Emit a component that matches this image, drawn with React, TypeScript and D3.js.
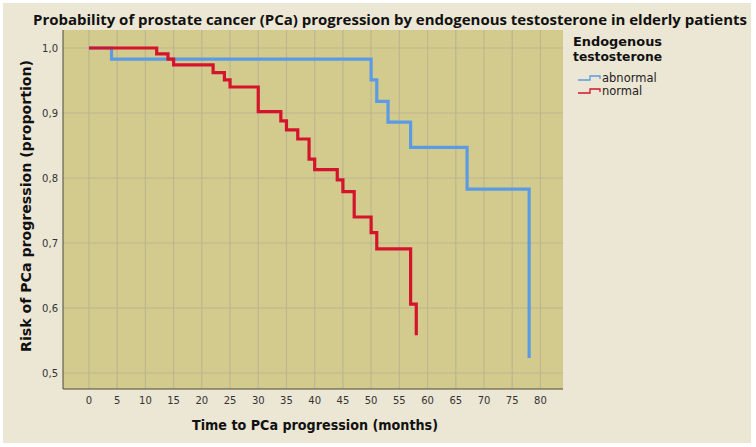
import React from "react";
import * as d3 from "d3";

const xTicks = [0, 5, 10, 15, 20, 25, 30, 35, 40, 45, 50, 55, 60, 65, 70, 75, 80];
const yTicks = [0.5, 0.6, 0.7, 0.8, 0.9, 1.0];

const normalTimes = [0, 12, 14, 15, 22, 24, 25, 30, 34, 35, 37, 39, 40, 44, 45, 47, 50, 51, 57, 58];
const normalValues = [1.0, 0.991, 0.983, 0.974, 0.962, 0.951, 0.94, 0.902, 0.888, 0.874, 0.86, 0.829, 0.813, 0.797, 0.779, 0.74, 0.716, 0.691, 0.606, 0.558];

const abnormalTimes = [0, 4, 50, 51, 53, 57, 67, 78];
const abnormalValues = [1.0, 0.983, 0.951, 0.918, 0.886, 0.847, 0.783, 0.523];

const seriesNames = ["abnormal", "normal"];
const seriesColors = ["#5b9be3", "#d3142c"];

const W = 756;
const H = 447;
const plot = { left: 63, right: 563, top: 30, bottom: 389 };

export default function App() {
  const x = d3.scaleLinear().domain([-4.6, 84]).range([plot.left, plot.right]);
  const y = d3.scaleLinear().domain([0.4754, 1.0277]).range([plot.bottom, plot.top]);

  const line = d3
    .line<[number, number]>()
    .x((d) => x(d[0]))
    .y((d) => y(d[1]))
    .curve(d3.curveStepAfter);

  const abnormalPts = abnormalTimes.map((t, i) => [t, abnormalValues[i]] as [number, number]);
  const normalPts = normalTimes.map((t, i) => [t, normalValues[i]] as [number, number]);

  const fmt = (v: number) => v.toFixed(1).replace(".", ",");
  const font = "'DejaVu Sans', sans-serif";

  return (
    <div style={{ position: "fixed", left: 0, top: 0 }}>
      <svg width={W} height={H} style={{ display: "block" }}>
        <rect x={0} y={0} width={W} height={H} fill="#ffffff" />
        <rect x={3} y={3} width={748} height={440} fill="#ece6d4" />
        <text
          x={390}
          y={25}
          textAnchor="middle"
          fontFamily="'Open Sans', sans-serif"
          fontWeight="bold"
          fontSize={15}
          textLength={714}
          lengthAdjust="spacingAndGlyphs"
          fill="#111"
        >
          Probability of prostate cancer (PCa) progression by endogenous testosterone in elderly patients
        </text>
        <rect
          x={plot.left}
          y={plot.top}
          width={plot.right - plot.left}
          height={plot.bottom - plot.top}
          fill="#d3cb8d"
        />
        {xTicks.map((t) => (
          <line
            key={"gx" + t}
            x1={x(t)}
            x2={x(t)}
            y1={plot.top}
            y2={plot.bottom}
            stroke="#bdb690"
            strokeWidth={1.2}
          />
        ))}
        {yTicks.map((t) => (
          <line
            key={"gy" + t}
            x1={plot.left}
            x2={plot.right}
            y1={y(t)}
            y2={y(t)}
            stroke="#bdb690"
            strokeWidth={1.2}
          />
        ))}
        <line x1={plot.left} x2={plot.left} y1={plot.top} y2={plot.bottom} stroke="#4a4a3a" strokeWidth={1} />
        <line x1={plot.left} x2={plot.right} y1={plot.bottom} y2={plot.bottom} stroke="#4a4a3a" strokeWidth={1} />
        <path d={line(abnormalPts) || ""} fill="none" stroke={seriesColors[0]} strokeWidth={3.2} />
        <path d={line(normalPts) || ""} fill="none" stroke={seriesColors[1]} strokeWidth={3.2} />
        {xTicks.map((t) => (
          <text
            key={"tx" + t}
            x={x(t)}
            y={404}
            textAnchor="middle"
            fontFamily={font}
            fontSize={10}
            fill="#333"
          >
            {t}
          </text>
        ))}
        {yTicks.map((t) => (
          <text
            key={"ty" + t}
            x={58}
            y={y(t) + 4}
            textAnchor="end"
            fontFamily={font}
            fontSize={10}
            fill="#333"
          >
            {fmt(t)}
          </text>
        ))}
        <text
          x={315}
          y={430}
          textAnchor="middle"
          fontFamily={font}
          fontWeight="bold"
          fontSize={14}
          textLength={246}
          lengthAdjust="spacingAndGlyphs"
          fill="#111"
        >
          Time to PCa progression (months)
        </text>
        <text
          transform={`translate(31,206) rotate(-90)`}
          textAnchor="middle"
          fontFamily={font}
          fontWeight="bold"
          fontSize={14}
          textLength={292}
          lengthAdjust="spacingAndGlyphs"
          fill="#111"
        >
          Risk of PCa progression (proportion)
        </text>
        <text x={573} y={46} fontFamily={font} fontWeight="bold" fontSize={12} fill="#111" textLength={89} lengthAdjust="spacingAndGlyphs">
          Endogenous
        </text>
        <text x={573} y={61} fontFamily={font} fontWeight="bold" fontSize={12} fill="#111" textLength={89} lengthAdjust="spacingAndGlyphs">
          testosterone
        </text>
        {seriesNames.map((name, i) => {
          const by = 81 + i * 13;
          return (
            <g key={name}>
              <path
                d={`M578,${by - 1} H590 V${by - 5} H600 V${by - 2}`}
                fill="none"
                stroke={seriesColors[i]}
                strokeWidth={1.3}
              />
              <text x={602} y={by + 1} fontFamily={font} fontSize={11.5} fill="#222">
                {name}
              </text>
            </g>
          );
        })}
      </svg>
    </div>
  );
}
